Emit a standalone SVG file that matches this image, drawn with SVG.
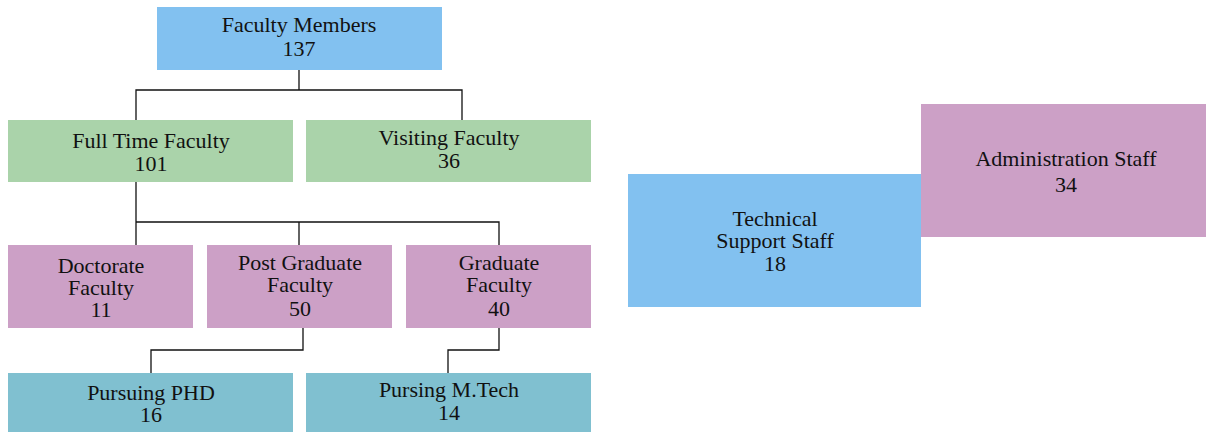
<svg xmlns="http://www.w3.org/2000/svg" width="1206" height="432" viewBox="0 0 1206 432">
<style>
.blue{fill:#82c1f0}
.green{fill:#aad3aa}
.pink{fill:#cca0c6}
.teal{fill:#80c0d0}
text{font-family:"Liberation Serif","DejaVu Serif",serif;font-size:22px;fill:#111;text-anchor:middle}
.conn{fill:none;stroke:#111;stroke-width:1.3}
</style>
<rect width="1206" height="432" fill="#fff"/>
<g id="connectors">
<path class="conn" d="M299,70V90M136,120V90H462V120"/>
<path class="conn" d="M136,182V245M136,222H499V245M299,222V245"/>
<path class="conn" d="M303,328V350H151V373"/>
<path class="conn" d="M499,328V350H448V373"/>
</g>
<g id="faculty-members"><rect class="blue" x="157" y="7" width="285" height="63"/><text x="299" y="32">Faculty Members</text><text x="299" y="56">137</text></g>
<g id="full-time"><rect class="green" x="8" y="120" width="285" height="62"/><text x="151" y="148">Full Time Faculty</text><text x="151" y="171">101</text></g>
<g id="visiting"><rect class="green" x="306" y="120" width="285" height="62"/><text x="449" y="145">Visiting Faculty</text><text x="449" y="168">36</text></g>
<g id="doctorate"><rect class="pink" x="8" y="245" width="185" height="83"/><text x="101" y="273">Doctorate</text><text x="101" y="295">Faculty</text><text x="101" y="317">11</text></g>
<g id="post-graduate"><rect class="pink" x="207" y="245" width="185" height="83"/><text x="300" y="270">Post Graduate</text><text x="300" y="292">Faculty</text><text x="300" y="316">50</text></g>
<g id="graduate"><rect class="pink" x="406" y="245" width="185" height="83"/><text x="499" y="270">Graduate</text><text x="499" y="292">Faculty</text><text x="499" y="316">40</text></g>
<g id="pursuing-phd"><rect class="teal" x="8" y="373" width="285" height="59"/><text x="151" y="400">Pursuing PHD</text><text x="151" y="422">16</text></g>
<g id="pursing-mtech"><rect class="teal" x="306" y="373" width="285" height="59"/><text x="449" y="397">Pursing M.Tech</text><text x="449" y="420">14</text></g>
<g id="technical"><rect class="blue" x="628" y="174" width="293" height="133"/><text x="775" y="226">Technical</text><text x="775" y="248">Support Staff</text><text x="775" y="271">18</text></g>
<g id="administration"><rect class="pink" x="921" y="104" width="285" height="133"/><text x="1066" y="166">Administration Staff</text><text x="1066" y="192">34</text></g>
</svg>
